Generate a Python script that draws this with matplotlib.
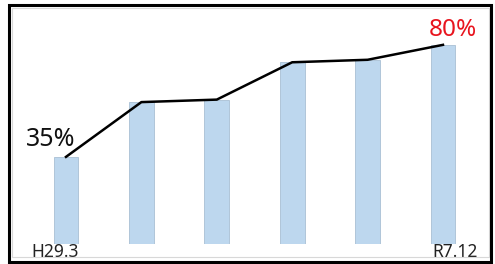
import matplotlib.pyplot as plt
from matplotlib.patches import Rectangle

plt.rcParams["font.family"] = ["Noto Sans", "DejaVu Sans"]

# data (percent)
aPeriod = ['H29.3', '', '', '', '', 'R7.12']
aValue = [35, 57, 58, 73, 74, 80]
sColor_bar = '#bdd7ee'
sColor_red = '#e8141e'

W, H = 495, 264
fig = plt.figure(figsize=(W / 100, H / 100), dpi=100)

# plot area in pixels (left, right, bottom, top from top edge)
x0, x1, yb, yt = 12, 488, 244, 8
ax = fig.add_axes([x0 / W, 1 - yb / H, (x1 - x0) / W, (yb - yt) / H])

x = list(range(len(aValue)))
ax.bar(x, aValue, width=0.33, color=sColor_bar, edgecolor='#a9bfd4', linewidth=0.6, zorder=1)
ax.plot(x, aValue, color='black', linewidth=1.8, zorder=2)

ax.set_xlim(-0.716, 5.597)
ax.set_ylim(0, 94.8)
ax.axis('off')

# end-point annotations
ax.text(x[0] - 0.2, aValue[0] + 1.8, '%d%%' % aValue[0], fontsize=18, ha='center', va='bottom', color='#111111')
ax.text(x[-1] + 0.13, aValue[-1] + 1.2, '%d%%' % aValue[-1], fontsize=17.5, ha='center', va='bottom', color=sColor_red)

# period labels under first and last bar
ax.text(x[0] - 0.14, 0.6, aPeriod[0], fontsize=12.5, ha='center', va='top', color='#222222')
ax.text(x[-1] + 0.16, 0.6, aPeriod[-1], fontsize=12.5, ha='center', va='top', color='#222222')

# frames: thin grey inner, thick black outer
fig.patches.append(Rectangle((12 / W, 1 - 257 / H), 477 / W, 249 / H, transform=fig.transFigure,
                             fill=False, edgecolor='#d8d8d8', linewidth=0.8))
fig.patches.append(Rectangle((9 / W, 1 - 262 / H), 482 / W, 257 / H, transform=fig.transFigure,
                             fill=False, edgecolor='black', linewidth=2.2))

plt.savefig('out.png', dpi=100)
